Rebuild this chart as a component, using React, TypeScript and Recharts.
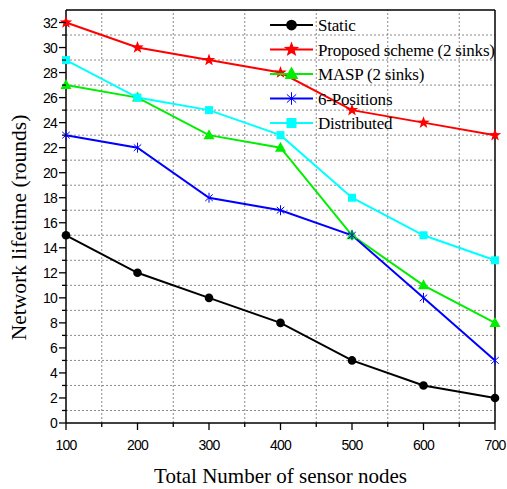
import React from "react";
import { LineChart, Line, XAxis, YAxis, ReferenceLine, Legend } from "recharts";

const nodes = [100, 200, 300, 400, 500, 600, 700];
const staticLife = [15, 12, 10, 8, 5, 3, 2];
const proposedLife = [32, 30, 29, 28, 25, 24, 23];
const maspLife = [27, 26, 23, 22, 15, 11, 8];
const sixPosLife = [23, 22, 18, 17, 15, 10, 5];
const distributedLife = [29, 26, 25, 23, 18, 15, 13];

const xTicks = [100, 150, 200, 250, 300, 350, 400, 450, 500, 550, 600, 650, 700];
const yTicks = Array.from({ length: 33 }, (_, i) => i);
const xGrid = [150, 250, 350, 450, 550, 650];
const yGrid = [1, 3, 5, 7, 9, 11, 13, 15, 17, 19, 21, 23, 25, 27, 29, 31];

const SERIF = "'Liberation Serif', 'Times New Roman', serif";
const SANS = "'Liberation Sans', Arial, sans-serif";

type Shape = "circle" | "star" | "triangle" | "asterisk" | "square";

const series: { key: string; name: string; color: string; shape: Shape }[] = [
  { key: "static", name: "Static", color: "#000000", shape: "circle" },
  { key: "proposed", name: "Proposed scheme (2 sinks)", color: "#ff0000", shape: "star" },
  { key: "masp", name: "MASP (2 sinks)", color: "#00ee00", shape: "triangle" },
  { key: "sixpos", name: "6-Positions", color: "#0000ff", shape: "asterisk" },
  { key: "distributed", name: "Distributed", color: "#00ffff", shape: "square" },
];

const data = nodes.map((n, i) => ({
  n,
  static: staticLife[i],
  proposed: proposedLife[i],
  masp: maspLife[i],
  sixpos: sixPosLife[i],
  distributed: distributedLife[i],
}));

function Marker({ shape, cx, cy, color, s = 1 }: { shape: Shape; cx: number; cy: number; color: string; s?: number }) {
  if (cx == null || cy == null) return null;
  switch (shape) {
    case "circle":
      return <circle cx={cx} cy={cy} r={4.3 * s} fill={color} />;
    case "star": {
      const pts: string[] = [];
      for (let k = 0; k < 10; k++) {
        const r = (k % 2 === 0 ? 6.5 : 2.7) * s;
        const a = -Math.PI / 2 + (k * Math.PI) / 5;
        pts.push(`${cx + r * Math.cos(a)},${cy + r * Math.sin(a)}`);
      }
      return <polygon points={pts.join(" ")} fill={color} />;
    }
    case "triangle":
      return (
        <polygon
          points={`${cx},${cy - 6 * s} ${cx - 5.5 * s},${cy + 4 * s} ${cx + 5.5 * s},${cy + 4 * s}`}
          fill={color}
        />
      );
    case "asterisk": {
      const r = 5 * s;
      return (
        <g stroke={color} strokeWidth={1}>
          <line x1={cx} y1={cy - r} x2={cx} y2={cy + r} />
          <line x1={cx - r * 0.75} y1={cy - r * 0.66} x2={cx + r * 0.75} y2={cy + r * 0.66} />
          <line x1={cx - r * 0.75} y1={cy + r * 0.66} x2={cx + r * 0.75} y2={cy - r * 0.66} />
        </g>
      );
    }
    case "square":
      return <rect x={cx - 4 * s} y={cy - 4 * s} width={8 * s} height={8 * s} fill={color} />;
  }
  return null;
}

function XTick(props: any) {
  const { x, y, payload } = props;
  const major = payload.value % 100 === 0;
  return (
    <g>
      <line x1={x} y1={y} x2={x} y2={y + (major ? 7 : 4)} stroke="#000" strokeWidth={1.3} />
      {major && (
        <text x={x} y={y + 27} textAnchor="middle" fontFamily={SANS} fontSize={14} letterSpacing={-0.8} fill="#000">
          {payload.value}
        </text>
      )}
    </g>
  );
}

function YTick(props: any) {
  const { x, y, payload } = props;
  const major = payload.value % 2 === 0;
  return (
    <g>
      <line x1={x} y1={y} x2={x - (major ? 7 : 4)} y2={y} stroke="#000" strokeWidth={1.3} />
      {major && (
        <text x={x - 9} y={y} dy="0.36em" textAnchor="end" fontFamily={SANS} fontSize={14} letterSpacing={-0.8} fill="#000">
          {payload.value}
        </text>
      )}
    </g>
  );
}

function LegendBox() {
  return (
    <svg width={240} height={130} style={{ display: "block" }}>
      {series.map((s, i) => {
        const y = 9 + i * 24.5;
        return (
          <g key={s.key}>
            <line x1={8} y1={y} x2={51} y2={y} stroke={s.color} strokeWidth={2} />
            <Marker shape={s.shape} cx={29.5} cy={y} color={s.color} s={1.25} />
            <text x={56} y={y + 6} fontFamily={SERIF} fontSize={17} letterSpacing={-0.2} fill="#000">
              {s.name}
            </text>
          </g>
        );
      })}
    </svg>
  );
}

export default function App() {
  return (
    <div style={{ position: "absolute", left: 0, top: 0, background: "#fff" }}>
      <LineChart width={507} height={489} data={data} margin={{ top: 10, right: 12, left: 0, bottom: 0 }}>
        {xGrid.map((v) => (
          <ReferenceLine key={"gx" + v} x={v} stroke="#8a8a8a" strokeWidth={1} strokeDasharray="2 2" />
        ))}
        {yGrid.map((v) => (
          <ReferenceLine key={"gy" + v} y={v} stroke="#8a8a8a" strokeWidth={1} strokeDasharray="2 2" />
        ))}
        <ReferenceLine y={33} stroke="#000" strokeWidth={1.5} />
        <ReferenceLine x={700} stroke="#000" strokeWidth={1.5} />
        <XAxis
          dataKey="n"
          type="number"
          domain={[100, 700]}
          ticks={xTicks}
          interval={0}
          height={66}
          tickSize={0}
          tickMargin={0}
          tickLine={false}
          axisLine={{ stroke: "#000", strokeWidth: 1.5 }}
          tick={<XTick />}
          label={{
            content: (p: any) => (
              <text
                x={p.viewBox.x + p.viewBox.width / 2}
                y={p.viewBox.y + 60}
                textAnchor="middle"
                fontFamily={SERIF}
                fontSize={21}
                fill="#000"
              >
                Total Number of sensor nodes
              </text>
            ),
          }}
        />
        <YAxis
          type="number"
          domain={[0, 33]}
          ticks={yTicks}
          interval={0}
          width={66}
          tickSize={0}
          tickMargin={0}
          tickLine={false}
          axisLine={{ stroke: "#000", strokeWidth: 1.5 }}
          tick={<YTick />}
          label={{
            content: (p: any) => {
              const cy = p.viewBox.y + p.viewBox.height / 2 + 11;
              return (
                <text
                  x={26}
                  y={cy}
                  transform={`rotate(-90 26 ${cy})`}
                  textAnchor="middle"
                  fontFamily={SERIF}
                  fontSize={21.5}
                  fill="#000"
                >
                  Network lifetime (rounds)
                </text>
              );
            },
          }}
        />
        <Legend
          layout="vertical"
          align="center"
          verticalAlign="middle"
          wrapperStyle={{ top: 16, left: 262, width: 240 }}
          content={() => <LegendBox />}
        />
        {series.map((s) => (
          <Line
            key={s.key}
            dataKey={s.key}
            name={s.name}
            type="linear"
            stroke={s.color}
            strokeWidth={2}
            isAnimationActive={false}
            dot={(p: any) => <Marker key={s.key + p.index} shape={s.shape} cx={p.cx} cy={p.cy} color={s.color} />}
            activeDot={false}
          />
        ))}
      </LineChart>
    </div>
  );
}
